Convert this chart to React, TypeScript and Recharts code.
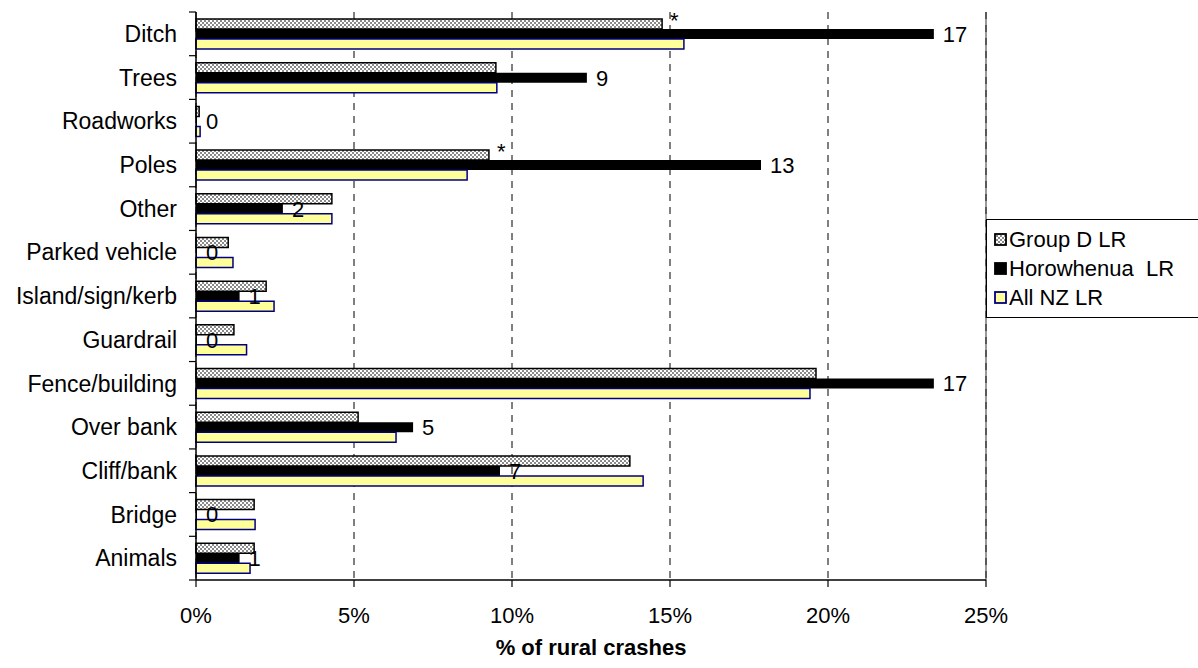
import React from "react";
import {
  BarChart,
  Bar,
  XAxis,
  YAxis,
  CartesianGrid,
  Legend,
  LabelList,
  ReferenceLine,
} from "recharts";

const CATEGORIES = [
  "Ditch",
  "Trees",
  "Roadworks",
  "Poles",
  "Other",
  "Parked vehicle",
  "Island/sign/kerb",
  "Guardrail",
  "Fence/building",
  "Over bank",
  "Cliff/bank",
  "Bridge",
  "Animals",
];

// % of rural crashes
const GROUP_D = [14.75, 9.49, 0.1, 9.27, 4.3, 1.02, 2.22, 1.2, 19.62, 5.13, 13.73, 1.84, 1.84];
const HOROWHENUA = [23.35, 12.37, 0, 17.88, 2.75, 0, 1.38, 0, 23.35, 6.87, 9.62, 0, 1.38];
const ALL_NZ = [15.44, 9.52, 0.13, 8.58, 4.3, 1.17, 2.47, 1.6, 19.43, 6.33, 14.15, 1.87, 1.71];

// number of Horowhenua crashes shown next to the black bars
const HOROWHENUA_COUNTS = [17, 9, 0, 13, 2, 0, 1, 0, 17, 5, 7, 0, 1];

// significance markers
const GROUP_D_SIG = ["*", "", "", "*", "", "", "", "", "", "", "", "", ""];
const ALL_NZ_SIG = ["*", "", "", "*", "", "", "", "", "", "", "", "", ""];

const X_TICKS = [0, 5, 10, 15, 20, 25];
const SERIES_ORDER = ["groupD", "horo", "allNz"];

const FONT = "Arial, 'Liberation Sans', Helvetica, sans-serif";

const CHART_W = 1198;
const CHART_H = 668;
const PLOT_TOP = 12;
const X_AXIS_H = 88;
const BAND = (CHART_H - PLOT_TOP - X_AXIS_H) / CATEGORIES.length;

const data = CATEGORIES.map((name, i) => ({
  name,
  groupD: GROUP_D[i],
  horo: HOROWHENUA[i],
  allNz: ALL_NZ[i],
  count: HOROWHENUA_COUNTS[i],
  gdSig: GROUP_D_SIG[i],
  nzSig: ALL_NZ_SIG[i],
}));

const STROKES: Record<string, string> = {
  groupD: "#000",
  horo: "#000",
  allNz: "#000080",
};

// category label plus Excel-style tick marks on the band boundaries
function CategoryTick(props: any) {
  const { x, y, payload, index, visibleTicksCount } = props;
  const half = BAND / 2;
  const axisX = x + 19;
  return (
    <g>
      <line x1={axisX - 7} x2={axisX} y1={y - half} y2={y - half} stroke="#000" strokeWidth={1.2} />
      {index === visibleTicksCount - 1 && (
        <line x1={axisX - 7} x2={axisX} y1={y + half} y2={y + half} stroke="#000" strokeWidth={1.2} />
      )}
      <text x={x} y={y} dy="0.355em" textAnchor="end" fontFamily={FONT} fontSize={23} fill="#000">
        {payload.value}
      </text>
    </g>
  );
}

function LegendBox({ payload }: any) {
  const items = [...(payload || [])].sort(
    (a: any, b: any) => SERIES_ORDER.indexOf(a.dataKey) - SERIES_ORDER.indexOf(b.dataKey)
  );
  return (
    <div
      style={{
        border: "1px solid #000",
        borderRight: "none",
        padding: "5px 0 5px 7px",
        background: "#fff",
        fontFamily: FONT,
        fontSize: 22,
        color: "#000",
        boxSizing: "border-box",
        width: 212,
      }}
    >
      {items.map((p: any) => (
        <div key={p.dataKey} style={{ display: "flex", alignItems: "center", height: 29, whiteSpace: "pre" }}>
          <svg width={13} height={13} style={{ marginRight: 2 }}>
            <rect x={1} y={1} width={11} height={11} fill={p.color} stroke={STROKES[p.dataKey]} strokeWidth={1.8} />
          </svg>
          {p.value}
        </div>
      ))}
    </div>
  );
}

export default function App() {
  return (
    <div style={{ position: "absolute", left: 0, top: 0, background: "#fff" }}>
      <BarChart
        width={CHART_W}
        height={CHART_H}
        data={data}
        layout="vertical"
        margin={{ top: PLOT_TOP, right: 0, bottom: 0, left: 0 }}
        barSize={10}
        barGap={0}
      >
        <defs>
          <pattern id="dots" width={4} height={4} patternUnits="userSpaceOnUse">
            <rect width={4} height={4} fill="#fff" />
            <rect x={0} y={0} width={2} height={2} fill="#8a8a8a" />
            <rect x={2} y={2} width={2} height={2} fill="#8a8a8a" />
          </pattern>
        </defs>
        <CartesianGrid horizontal={false} stroke="#000" strokeDasharray="7 6" />
        <XAxis
          type="number"
          domain={[0, 25]}
          ticks={X_TICKS}
          tickFormatter={(v: number) => `${v}%`}
          axisLine={{ stroke: "#000", strokeWidth: 1.5 }}
          tickLine={{ stroke: "#000", strokeWidth: 1.2 }}
          tickSize={7}
          tickMargin={20}
          tick={{ fontSize: 22, fill: "#000", fontFamily: FONT }}
          height={X_AXIS_H}
          label={({ viewBox }: any) => (
            <text
              x={viewBox.x + viewBox.width / 2}
              y={viewBox.y + 75}
              textAnchor="middle"
              fontFamily={FONT}
              fontSize={22}
              fontWeight="bold"
              fill="#000"
            >
              % of rural crashes
            </text>
          )}
        />
        <XAxis
          xAxisId="top"
          orientation="top"
          type="number"
          domain={[0, 25]}
          height={0}
          tick={false}
          tickLine={false}
          axisLine={{ stroke: "#333" }}
        />
        <YAxis
          type="category"
          dataKey="name"
          width={196}
          axisLine={{ stroke: "#000", strokeWidth: 1.5 }}
          tickLine={false}
          tickSize={6}
          tickMargin={13}
          interval={0}
          tick={<CategoryTick />}
        />
        <ReferenceLine x={25} stroke="#333" />
        <Legend
          layout="vertical"
          align="right"
          verticalAlign="middle"
          content={<LegendBox />}
          wrapperStyle={{ left: 986, top: 219, width: 212 }}
        />
        <Bar dataKey="groupD" name="Group D LR" fill="url(#dots)" stroke="#000" strokeWidth={1.5} isAnimationActive={false}>
          <LabelList dataKey="gdSig" position="right" offset={8} dy={-4} fontSize={22} fill="#000" fontFamily={FONT} />
        </Bar>
        <Bar dataKey="horo" name="Horowhenua  LR" fill="#000" minPointSize={1} isAnimationActive={false}>
          <LabelList dataKey="count" position="right" offset={9} fontSize={22} fill="#000" fontFamily={FONT} />
        </Bar>
        <Bar dataKey="allNz" name="All NZ LR" fill="#ffff99" stroke="#000080" strokeWidth={1.5} isAnimationActive={false}>
          <LabelList dataKey="nzSig" position="right" offset={8} dy={-6} fontSize={20} fill="#000" fontFamily={FONT} />
        </Bar>
      </BarChart>
    </div>
  );
}
